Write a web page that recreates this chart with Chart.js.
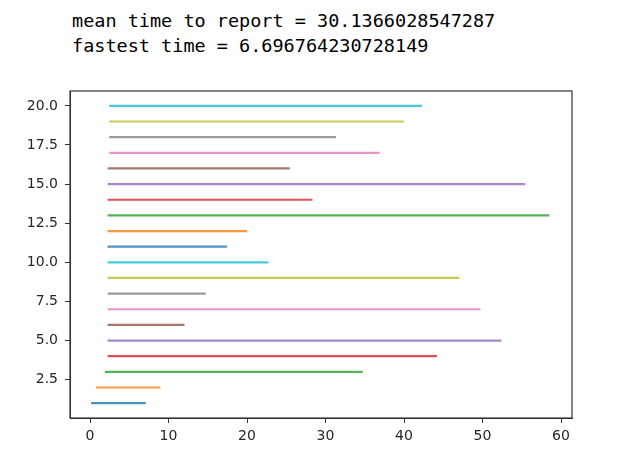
<!DOCTYPE html>
<html>
<head>
<meta charset="UTF-8">
<title>time to report</title>
<script src="https://cdn.jsdelivr.net/npm/chart.js"></script>
<style>
    body { margin: 0; background: #fff; }
    #wrap { position: relative; width: 623px; height: 466px; }
    .out {
        position: absolute;
        left: 72px;
        font-family: "DejaVu Sans Mono", "Liberation Mono", monospace;
        font-size: 18.5px;
        color: #000;
        white-space: pre;
        line-height: 25px;
    }
    canvas { position: absolute; left: 0; top: 0; }
</style>
</head>
<body>
<div id="wrap">
    <div class="out" style="top: 8px;">mean time to report = 30.1366028547287
fastest time = 6.696764230728149</div>
    <canvas id="c" width="623" height="466"></canvas>
</div>
<script>
// each report: y = row number, line from start to end time
const rows = [1, 2, 3, 4, 5, 6, 7, 8, 9, 10, 11, 12, 13, 14, 15, 16, 17, 18, 19, 20];
const starts = [0.27, 0.89, 2.04, 2.38, 2.38, 2.38, 2.38, 2.38, 2.38, 2.38,
                2.38, 2.38, 2.38, 2.38, 2.38, 2.38, 2.59, 2.59, 2.59, 2.59];
const ends = [6.97, 8.83, 34.6, 44.07, 52.26, 11.9, 49.6, 14.6, 46.9, 22.6,
              17.3, 19.9, 58.38, 28.2, 55.3, 25.3, 36.75, 31.2, 39.86, 42.15];
const xTicks = [0, 10, 20, 30, 40, 50, 60];
const yTicks = [2.5, 5.0, 7.5, 10.0, 12.5, 15.0, 17.5, 20.0];

// matplotlib tab10
const tab10 = ['31,119,180', '255,127,14', '44,160,44', '214,39,40', '148,103,189',
               '140,86,75', '227,119,194', '127,127,127', '188,189,34', '23,190,207'];

const datasets = rows.map((r, i) => ({
    data: [{ x: starts[i], y: r }, { x: ends[i], y: r }],
    showLine: true,
    borderColor: 'rgba(' + tab10[i % 10] + ',0.8)',
    borderWidth: 2.2,
    borderCapStyle: 'square',
    pointRadius: 0,
    fill: false
}));

// frame round the plot area, like matplotlib axes spines
const frame = {
    id: 'frame',
    afterDraw(chart) {
        const a = chart.chartArea, ctx = chart.ctx;
        ctx.save();
        ctx.strokeStyle = '#333';
        ctx.lineWidth = 1.2;
        ctx.strokeRect(a.left, a.top, a.right - a.left, a.bottom - a.top);
        ctx.restore();
    }
};

const tickFont = { family: 'DejaVu Sans', size: 14 };

new Chart(document.getElementById('c'), {
    type: 'scatter',
    data: { datasets: datasets },
    plugins: [frame],
    options: {
        responsive: false,
        animation: false,
        layout: { padding: { top: 91, right: 51, left: 0, bottom: 0 } },
        plugins: { legend: { display: false }, tooltip: { enabled: false } },
        scales: {
            x: {
                min: -2.55,
                max: 61.4,
                afterBuildTicks: s => { s.ticks = xTicks.map(v => ({ value: v })); },
                afterFit: s => { s.height = 48; },
                grid: { drawOnChartArea: false, tickLength: 5, color: '#333' },
                border: { color: '#333' },
                ticks: { font: tickFont, color: '#262626', padding: 5, maxRotation: 0 }
            },
            y: {
                min: 0.05,
                max: 20.95,
                afterBuildTicks: s => { s.ticks = yTicks.map(v => ({ value: v })); },
                afterFit: s => { s.width = 70; },
                grid: { drawOnChartArea: false, tickLength: 5, color: '#333' },
                border: { color: '#333' },
                ticks: {
                    font: tickFont, color: '#262626', padding: 7,
                    callback: v => Number(v).toFixed(1)
                }
            }
        }
    }
});
</script>
</body>
</html>
